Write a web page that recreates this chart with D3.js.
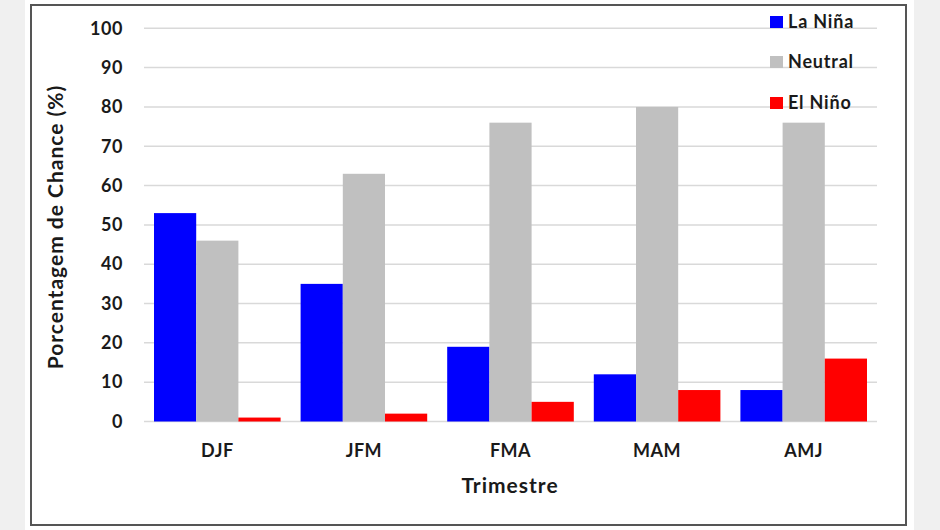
<!DOCTYPE html>
<html>
<head>
<meta charset="utf-8">
<script src="https://cdn.jsdelivr.net/npm/d3@7"></script>
<style>
  body { margin: 0; background: #f0f0f0; }
  svg { display: block; font-family: Lato, "Open Sans", sans-serif; font-weight: bold; }
</style>
</head>
<body>
<script>
const categories = ["DJF", "JFM", "FMA", "MAM", "AMJ"];
const seriesNames = ["La Niña", "Neutral", "El Niño"];
const laNina = [53, 35, 19, 12, 8];
const neutral = [46, 63, 76, 80, 76];
const elNino = [1, 2, 5, 8, 16];
const yTicks = [0, 10, 20, 30, 40, 50, 60, 70, 80, 90, 100];
const colors = ["#0000ff", "#c0c0c0", "#ff0000"];

const seriesValues = [laNina, neutral, elNino];
const rows = categories.map((c, i) => ({
  cat: c,
  vals: seriesNames.map((s, k) => ({ key: s, value: seriesValues[k][i] }))
}));

const w = 940, h = 530;
const plotL = 144, plotR = 877, plotT = 28.3, plotB = 421.5;

const svg = d3.select("body").append("svg")
  .attr("width", w).attr("height", h);

svg.append("rect").attr("width", w).attr("height", h).attr("fill", "#f0f0f0");
svg.append("rect").attr("x", 25).attr("y", 0).attr("width", 889).attr("height", h).attr("fill", "#fff");
svg.append("rect").attr("x", 31).attr("y", 5).attr("width", 875).attr("height", 520)
  .attr("fill", "#fff").attr("stroke", "#555").attr("stroke-width", 2);

const x0 = d3.scaleBand().domain(categories).range([plotL, plotR]).padding(0);
const x1 = d3.scaleBand().domain(seriesNames).range([10, x0.bandwidth() - 10]).padding(0);
const y = d3.scaleLinear().domain([0, 100]).range([plotB, plotT]);
const color = d3.scaleOrdinal().domain(seriesNames).range(colors);

// gridlines
svg.append("g").selectAll("line")
  .data(yTicks)
  .enter().append("line")
  .attr("x1", plotL).attr("x2", plotR)
  .attr("y1", d => y(d)).attr("y2", d => y(d))
  .attr("stroke", "#d9d9d9").attr("stroke-width", 1.5);

// y axis labels
const yAxis = d3.axisLeft(y).tickValues(yTicks).tickSize(0).tickPadding(0);
const yg = svg.append("g")
  .attr("transform", "translate(" + 123 + ",0)")
  .call(yAxis);
yg.select(".domain").remove();
yg.selectAll("text").attr("font-size", 18).attr("fill", "#1a1a1a")
  .attr("font-family", "Lato, sans-serif").attr("font-weight", "bold")
  .attr("letter-spacing", 0.6);

// bars
const groups = svg.append("g").selectAll("g")
  .data(rows)
  .enter().append("g")
  .attr("transform", d => "translate(" + x0(d.cat) + ",0)");

groups.selectAll("rect")
  .data(d => d.vals)
  .enter().append("rect")
  .attr("x", d => x1(d.key))
  .attr("y", d => y(d.value))
  .attr("width", x1.bandwidth())
  .attr("height", d => y(0) - y(d.value))
  .attr("fill", d => color(d.key));

// x axis
const xAxis = d3.axisBottom(x0).tickSize(0).tickPadding(0);
const xg = svg.append("g")
  .attr("transform", "translate(0," + 444 + ")")
  .call(xAxis);
xg.select(".domain").remove();
xg.selectAll("text").attr("font-size", 18).attr("fill", "#1a1a1a")
  .attr("font-family", "Lato, sans-serif").attr("font-weight", "bold")
  .attr("letter-spacing", 0.5);

// axis titles
svg.append("text")
  .attr("x", 510).attr("y", 493)
  .attr("text-anchor", "middle")
  .attr("font-size", 21).attr("letter-spacing", 1).attr("fill", "#1a1a1a")
  .text("Trimestre");

svg.append("text")
  .attr("transform", "translate(63,227) rotate(-90)")
  .attr("text-anchor", "middle")
  .attr("font-size", 21).attr("letter-spacing", 1).attr("fill", "#1a1a1a")
  .text("Porcentagem de Chance (%)");

// legend
const legendY = [28, 68, 109];
const legend = svg.append("g").selectAll("g")
  .data(seriesNames)
  .enter().append("g")
  .attr("transform", (d, i) => "translate(770," + legendY[i] + ")");

legend.append("rect")
  .attr("x", 0).attr("y", -12)
  .attr("width", 13).attr("height", 12)
  .attr("fill", d => color(d));

legend.append("text")
  .attr("x", 18).attr("y", 0)
  .attr("font-size", 18).attr("letter-spacing", 0.8).attr("fill", "#1a1a1a")
  .text(d => d);
</script>
</body>
</html>
